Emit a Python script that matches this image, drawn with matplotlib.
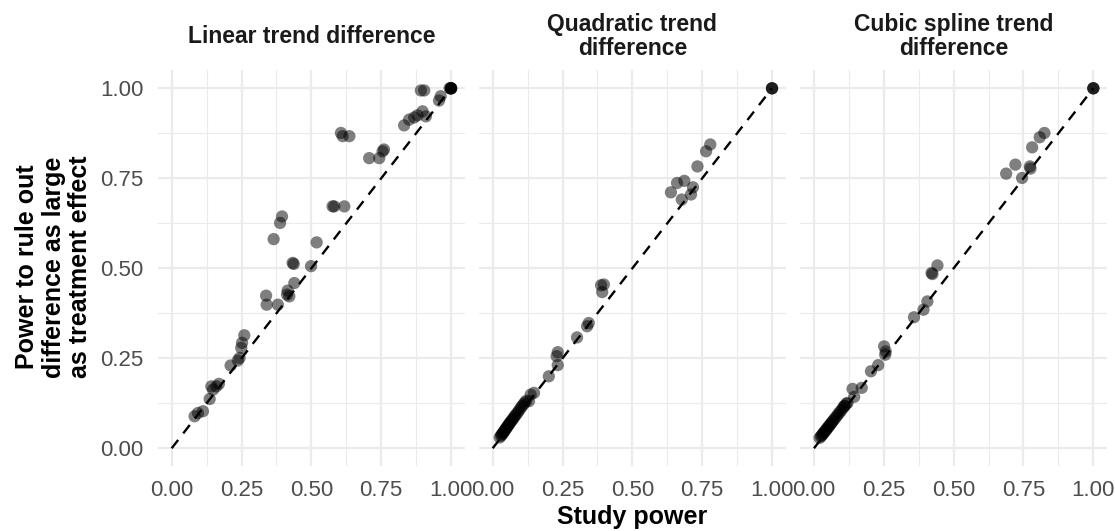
import matplotlib
matplotlib.use("Agg")
import matplotlib.pyplot as plt
import numpy as np

plt.rcParams["font.family"] = ["Liberation Sans", "DejaVu Sans"]

# --- Data --------------------------------------------------------------------
panel_titles = ["Linear trend difference", "Quadratic trend\ndifference", "Cubic spline trend\ndifference"]
tick_vals = [0.0, 0.25, 0.5, 0.75, 1.0]
tick_labels = ["0.00", "0.25", "0.50", "0.75", "1.00"]

linear_x = [1.0, 1.0, 1.0, 1.0, 1.0, 0.995, 0.892, 0.904, 0.957, 0.963, 0.832, 0.85, 0.868,
            0.88, 0.898, 0.91, 0.606, 0.612, 0.636, 0.707, 0.743, 0.755, 0.76, 0.576, 0.582,
            0.618, 0.395, 0.388, 0.365, 0.519, 0.433, 0.437, 0.499, 0.439, 0.415, 0.413, 0.421,
            0.338, 0.34, 0.38, 0.26, 0.252, 0.249, 0.243, 0.237, 0.211, 0.169, 0.142, 0.148,
            0.136, 0.16, 0.112, 0.094, 0.082]
linear_y = [1.0, 1.0, 1.0, 1.0, 1.0, 1.0, 0.994, 0.994, 0.966, 0.978, 0.897, 0.913, 0.919,
            0.925, 0.936, 0.922, 0.876, 0.867, 0.867, 0.806, 0.806, 0.825, 0.83, 0.672, 0.672,
            0.672, 0.644, 0.626, 0.581, 0.572, 0.515, 0.512, 0.506, 0.459, 0.438, 0.427, 0.422,
            0.424, 0.399, 0.399, 0.314, 0.293, 0.279, 0.251, 0.244, 0.23, 0.179, 0.172, 0.163,
            0.137, 0.172, 0.103, 0.098, 0.089]

quad_x = [1.0, 1.0, 1.0, 0.779, 0.764, 0.733, 0.66, 0.686, 0.638, 0.677, 0.71, 0.717,
          0.398, 0.392, 0.388, 0.344, 0.302, 0.338, 0.233, 0.229, 0.233, 0.201, 0.136, 0.13,
          0.148, 0.025, 0.03, 0.032, 0.035, 0.037, 0.04, 0.042, 0.045, 0.047, 0.05, 0.052,
          0.055, 0.058, 0.06, 0.063, 0.066, 0.07, 0.073, 0.077, 0.08, 0.085, 0.09, 0.095,
          0.1, 0.105, 0.11, 0.115, 0.12]
quad_y = [1.0, 1.0, 1.0, 0.844, 0.825, 0.783, 0.737, 0.743, 0.711, 0.691, 0.705, 0.725,
          0.455, 0.434, 0.453, 0.348, 0.308, 0.339, 0.267, 0.256, 0.231, 0.2, 0.149, 0.131,
          0.154, 0.03, 0.035, 0.038, 0.04, 0.043, 0.046, 0.048, 0.052, 0.054, 0.057, 0.06,
          0.063, 0.066, 0.069, 0.072, 0.075, 0.079, 0.082, 0.087, 0.09, 0.095, 0.1, 0.106,
          0.112, 0.117, 0.122, 0.127, 0.132]

spline_x = [1.0, 1.0, 1.0, 0.825, 0.808, 0.781, 0.721, 0.688, 0.773, 0.775, 0.745, 0.442,
            0.424, 0.421, 0.406, 0.392, 0.358, 0.251, 0.257, 0.255, 0.23, 0.204, 0.138, 0.171,
            0.144, 0.12, 0.108, 0.02, 0.025, 0.028, 0.031, 0.034, 0.037, 0.04, 0.043, 0.046,
            0.049, 0.052, 0.055, 0.058, 0.061, 0.065, 0.069, 0.073, 0.078, 0.083, 0.088,
            0.093, 0.098, 0.104, 0.11, 0.116]
spline_y = [1.0, 1.0, 1.0, 0.876, 0.864, 0.836, 0.788, 0.763, 0.783, 0.777, 0.751, 0.508,
            0.484, 0.487, 0.408, 0.385, 0.364, 0.283, 0.269, 0.26, 0.231, 0.214, 0.165, 0.168,
            0.143, 0.126, 0.117, 0.029, 0.033, 0.036, 0.039, 0.042, 0.045, 0.048, 0.051, 0.054,
            0.057, 0.06, 0.063, 0.066, 0.069, 0.073, 0.077, 0.081, 0.086, 0.091, 0.096,
            0.101, 0.106, 0.112, 0.118, 0.124]

panels = [(linear_x, linear_y), (quad_x, quad_y), (spline_x, spline_y)]

# --- Plot --------------------------------------------------------------------
W, H = 1115, 531
fig = plt.figure(figsize=(W / 100, H / 100), dpi=100)

lefts = [157.7, 478.7, 800.0]
pw, ph = 307.3, 396.0
bottom = H - 466.3

grid_col = "#EBEBEB"
text_col = "#4D4D4D"

for i, (left, title, (xs, ys)) in enumerate(zip(lefts, panel_titles, panels)):
    ax = fig.add_axes([left / W, bottom / H, pw / W, ph / H])
    ax.set_xlim(-0.05, 1.05)
    ax.set_ylim(-0.05, 1.05)
    for s in ax.spines.values():
        s.set_visible(False)

    ax.set_xticks(tick_vals)
    ax.set_xticklabels(tick_labels)
    ax.set_xticks([0.125, 0.375, 0.625, 0.875], minor=True)
    ax.set_yticks(tick_vals)
    ax.set_yticks([0.125, 0.375, 0.625, 0.875], minor=True)
    if i == 0:
        ax.set_yticklabels(tick_labels)
    else:
        ax.set_yticklabels([])
    ax.tick_params(which="both", length=0, labelsize=16, labelcolor=text_col, pad=10)
    ax.grid(which="major", color=grid_col, lw=1.6)
    ax.grid(which="minor", color=grid_col, lw=0.8)
    ax.set_axisbelow(True)

    ax.plot([0, 1], [0, 1], color="black", lw=1.7, ls=(0, (4.5, 3.5)), zorder=2)
    ax.scatter(xs, ys, s=78, color="black", alpha=0.5, edgecolors="none", zorder=3)

    ax.text(0.5, 1 + 33.5 / ph, title, transform=ax.transAxes, ha="center", va="center",
            fontsize=16.5, fontweight="bold", color="#1A1A1A", linespacing=1.05)

fig.text(53.5 / W, 1 - 267 / H, "Power to rule out\ndifference as large\nas treatment effect",
         rotation=90, ha="center", va="center", fontsize=18, fontweight="bold",
         linespacing=1.12)
fig.text(632 / W, 1 - 517 / H, "Study power", ha="center", va="center",
         fontsize=18, fontweight="bold")

fig.savefig("out.png", dpi=100)
